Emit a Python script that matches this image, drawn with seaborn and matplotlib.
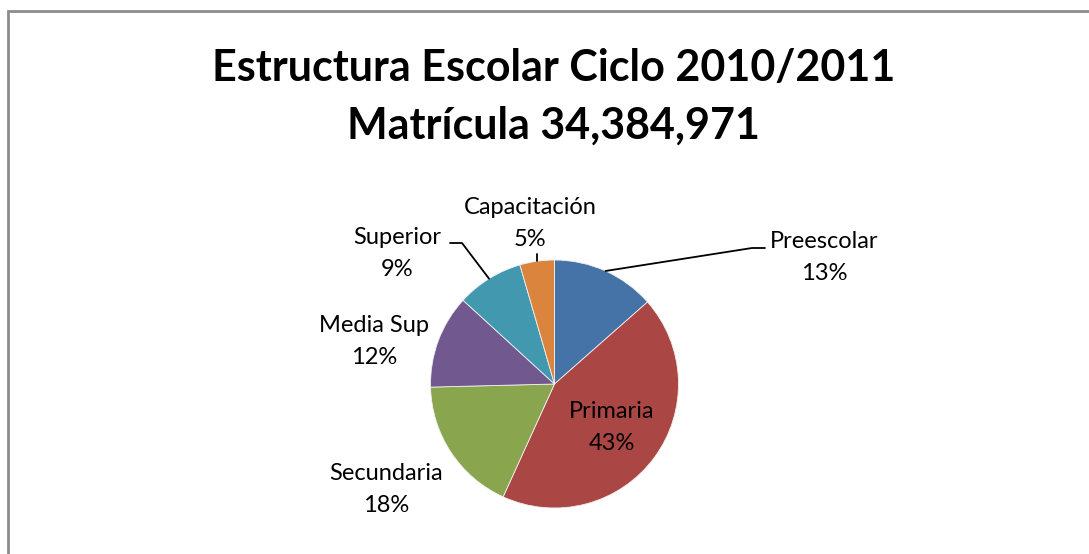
import matplotlib
matplotlib.use("Agg")
import matplotlib.pyplot as plt
import seaborn as sns
import numpy as np
from matplotlib.patches import Rectangle

# ---- data ----
categories = ["Preescolar", "Primaria", "Secundaria", "Media Sup", "Superior", "Capacitación"]
shares = [13.5, 43.3, 17.8, 12.2, 8.7, 4.5]
pct_labels = ["13%", "43%", "18%", "12%", "9%", "5%"]
title_lines = ["Estructura Escolar Ciclo 2010/2011", "Matrícula 34,384,971"]
colors = ["#4572A7", "#AA4643", "#89A54E", "#71588F", "#4198AF", "#DB843D"]

sns.set_theme(style="white")
plt.rcParams["font.family"] = ["Lato", "DejaVu Sans"]

W, H = 1089, 554
fig = plt.figure(figsize=(W / 100, H / 100), dpi=100)
ax = fig.add_axes([0, 0, 1, 1])

def py(y):
    return H - y

cx, cy, r = 554.5, py(384), 124
wedges, _ = ax.pie(shares, colors=colors, startangle=90, counterclock=False,
                   center=(cx, cy), radius=r, frame=True,
                   wedgeprops=dict(edgecolor="#f0f0f0", linewidth=0.6))
ax.set_xlim(0, W)
ax.set_ylim(0, H)
ax.set_aspect("equal")
ax.axis("off")

# outer frame (chart area border)
ax.add_patch(Rectangle((8, -20), W + 50, py(11) + 20, fill=False,
                       edgecolor="#8c8c8c", linewidth=2.0, zorder=0))

# title
ax.text(W / 2 + 9, py(68), title_lines[0], ha="center", va="center",
        fontsize=31, fontweight="bold", color="black")
ax.text(W / 2 + 9, py(126), title_lines[1], ha="center", va="center",
        fontsize=31, fontweight="bold", color="black")

# labels
lab_fs = 17
label_pos = {
    "Preescolar": (824, 241),
    "Primaria": (612, 412),
    "Secundaria": (386, 473),
    "Media Sup": (374, 326),
    "Superior": (397, 237),
    "Capacitación": (530, 207),
}
for cat, pct in zip(categories, pct_labels):
    x, y = label_pos[cat]
    ax.text(x, py(y), cat, ha="center", va="center", fontsize=lab_fs, color="black")
    ax.text(x, py(y + 32), pct, ha="center", va="center", fontsize=lab_fs, color="black")

def edge_point(idx, frac=0.5):
    w = wedges[idx]
    ang = np.deg2rad(w.theta1 + (w.theta2 - w.theta1) * frac)
    return cx + r * np.cos(ang), cy + r * np.sin(ang)

# leader lines
ex, ey = edge_point(0, 0.5)
ax.plot([ex, 752, 765], [ey, py(248), py(248)], color="black", lw=1.3)
ex, ey = edge_point(4, 0.5)
ax.plot([450, 462, ex], [py(243), py(243), ey], color="black", lw=1.3)
ex, ey = edge_point(5, 0.5)
ax.plot([ex, ex], [py(254), ey], color="black", lw=1.3)

fig.savefig("out.png", dpi=100)
